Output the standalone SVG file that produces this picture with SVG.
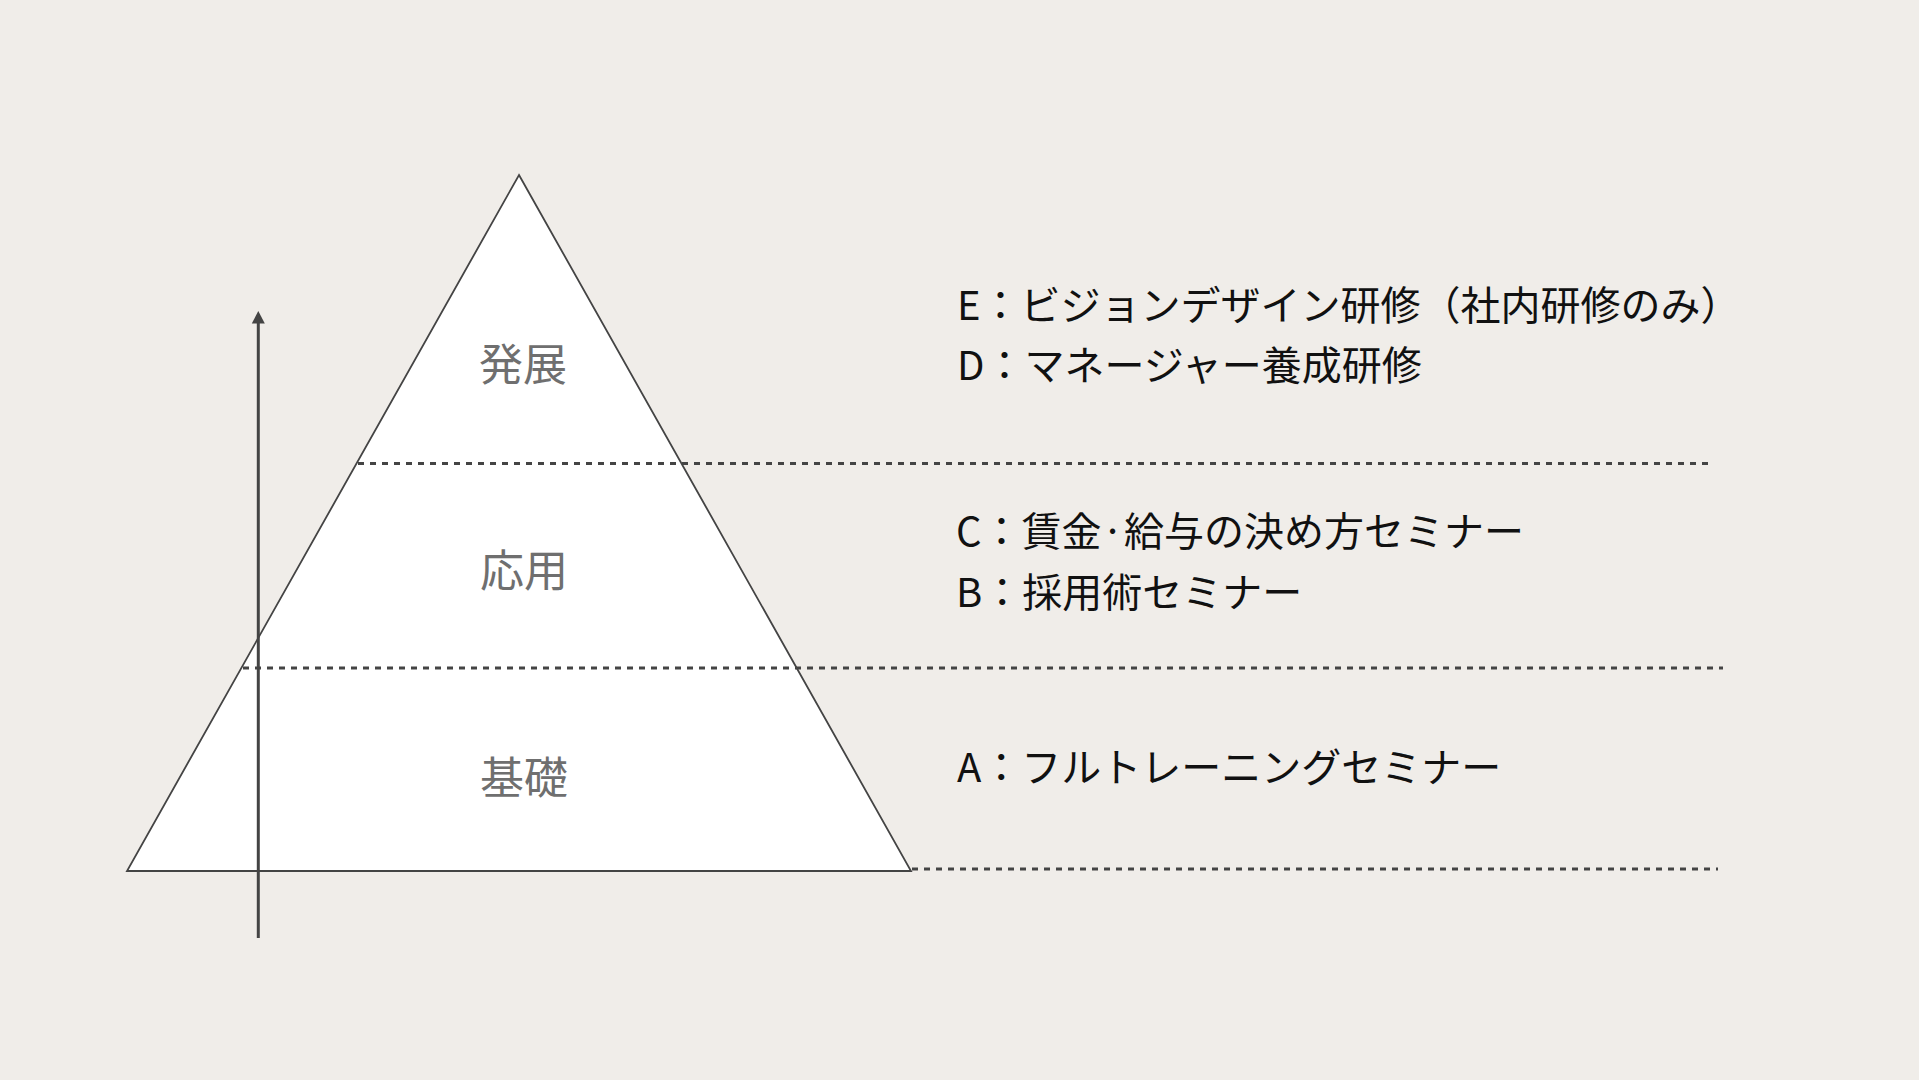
<svg xmlns="http://www.w3.org/2000/svg" width="1919" height="1080" viewBox="0 0 1919 1080">
<defs>
<style>
.lvl{font-family:"Noto Sans CJK JP","Noto Sans",sans-serif;font-size:44px;fill:#6f6f6f;text-anchor:middle}
.item{font-family:"Noto Sans CJK JP","Noto Sans",sans-serif;font-size:40px;fill:#111111}
.dash{stroke:#444444;stroke-width:3;stroke-dasharray:6 6;fill:none}
</style>
</defs>
<rect width="1919" height="1080" fill="#F0EDE9"/>
<g id="pyramid">
<polygon points="519,175 911,871 127,871" fill="#FFFFFF" stroke="#444444" stroke-width="1.8" stroke-linejoin="miter"/>
</g>
<g id="connectors">
<line class="dash" x1="358" y1="463.5" x2="1711" y2="463.5"/>
<line class="dash" x1="243" y1="668" x2="1723" y2="668"/>
<line class="dash" x1="912" y1="869" x2="1718" y2="869"/>
<line x1="258.3" y1="938" x2="258.3" y2="322" stroke="#444444" stroke-width="3"/>
<path d="M251.8,323.5 L258.3,311 L264.8,323.5 Z" fill="#444444"/>
</g>
<g id="level-top"><text class="lvl" x="523" y="381">発展</text></g>
<g id="level-mid"><text class="lvl" x="524" y="587">応用</text></g>
<g id="level-base"><text class="lvl" x="524" y="794">基礎</text></g>
<g id="item-E"><text class="item" x="957" y="320">E：ビジョンデザイン研修（社内研修のみ）</text></g>
<g id="item-D"><text class="item" x="957" y="380">D：マネージャー養成研修</text></g>
<g id="item-C"><text class="item" x="956" y="546">C：賃金·給与の決め方セミナー</text></g>
<g id="item-B"><text class="item" x="956" y="607">B：採用術セミナー</text></g>
<g id="item-A"><text class="item" x="957" y="782">A：フルトレーニングセミナー</text></g>
</svg>
